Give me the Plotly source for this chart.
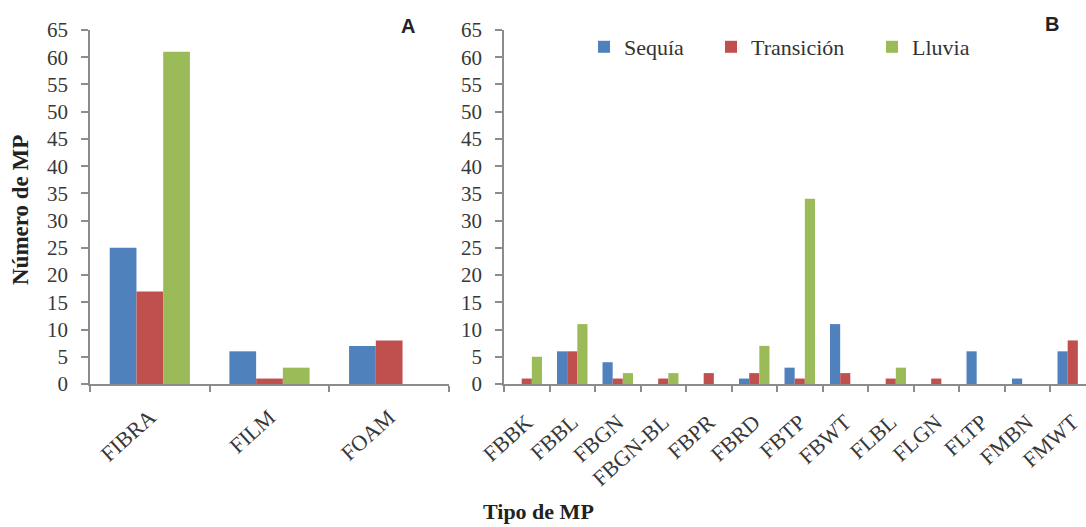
import plotly.graph_objects as go

W, H = 1086, 527

cats_a = ["FIBRA", "FILM", "FOAM"]
seq_a = [25, 6, 7]
tra_a = [17, 1, 8]
llu_a = [61, 3, 0]

cats_b = ["FBBK", "FBBL", "FBGN", "FBGN-BL", "FBPR", "FBRD", "FBTP",
          "FBWT", "FLBL", "FLGN", "FLTP", "FMBN", "FMWT"]
seq_b = [0, 6, 4, 0, 0, 1, 3, 11, 0, 0, 6, 1, 6]
tra_b = [1, 6, 1, 1, 2, 2, 1, 2, 1, 1, 0, 0, 8]
llu_b = [5, 11, 2, 2, 0, 7, 34, 0, 3, 0, 0, 0, 0]

series_names = ["Sequía", "Transición", "Lluvia"]
colors = ["#4F81BD", "#C0504D", "#9BBB59"]

SERIF = "Liberation Serif"

fig = go.Figure()
for name, vals, col in zip(series_names, [seq_a, tra_a, llu_a], colors):
    fig.add_trace(go.Bar(x=cats_a, y=vals, name=name, marker_color=col,
                         marker_line_width=0, showlegend=False,
                         xaxis="x", yaxis="y"))
legends = ["legend", "legend2", "legend3"]
for name, vals, col, lg in zip(series_names, [seq_b, tra_b, llu_b], colors, legends):
    fig.add_trace(go.Bar(x=cats_b, y=vals, name=name, marker_color=col,
                         marker_line_width=0, showlegend=True, legend=lg,
                         xaxis="x2", yaxis="y2"))

def px(x):
    return x / W

def py(y):
    return (H - y) / H

ybot, ytop = py(384), py(30)
axis_col = "#8c8c8c"
tickfont = dict(family=SERIF, size=21, color="#383838")
xtickfont = dict(family=SERIF, size=22, color="#383838")

common_y = dict(range=[0, 65], dtick=5, showline=True, linecolor=axis_col,
                linewidth=1.5, ticks="outside", ticklen=7, tickcolor=axis_col,
                tickwidth=1.5, showgrid=False, zeroline=False,
                tickfont=tickfont, ticklabelstandoff=9, automargin=False,
                domain=[ybot, ytop])
common_x = dict(type="category", showline=True, linecolor=axis_col,
                linewidth=1.5, ticks="outside", ticklen=6, tickcolor=axis_col,
                tickwidth=1.5, tickson="boundaries", showgrid=False,
                tickangle=-42, tickfont=xtickfont, automargin=False)

fig.update_layout(
    width=W, height=H,
    margin=dict(l=0, r=0, t=0, b=0, autoexpand=False),
    paper_bgcolor="white", plot_bgcolor="white",
    barmode="group", bargap=0.33, bargroupgap=0,
    xaxis=dict(domain=[px(90), px(449)], anchor="y", ticklabelstandoff=10,
               **common_x),
    yaxis=dict(anchor="x", **common_y),
    xaxis2=dict(domain=[px(504), 1.0], anchor="y2", ticklabelstandoff=15,
                range=[-0.5, -0.5 + (W - 504) / 45.5], **common_x),
    yaxis2=dict(anchor="x2", **common_y),
    font=dict(family=SERIF, color="#333333"),
    annotations=[
        dict(text="<b>A</b>", x=px(408), y=py(26), xref="paper", yref="paper",
             xanchor="center", yanchor="middle", showarrow=False,
             font=dict(family="Liberation Sans", size=20, color="#222")),
        dict(text="<b>B</b>", x=px(1052), y=py(24), xref="paper", yref="paper",
             xanchor="center", yanchor="middle", showarrow=False,
             font=dict(family="Liberation Sans", size=20, color="#222")),
        dict(text="<b>Número de MP</b>", x=px(21), y=py(210), xref="paper", yref="paper",
             xanchor="center", yanchor="middle", showarrow=False, textangle=-90,
             font=dict(family=SERIF, size=23, color="#222")),
        dict(text="<b>Tipo de MP</b>", x=px(538), y=py(511), xref="paper", yref="paper",
             xanchor="center", yanchor="middle", showarrow=False,
             font=dict(family=SERIF, size=22, color="#222")),
    ],
)

leg_common = dict(orientation="h", xanchor="left", yanchor="middle",
                  font=dict(family=SERIF, size=22, color="#333333"),
                  bgcolor="rgba(0,0,0,0)", borderwidth=0)
fig.update_layout(
    legend=dict(x=px(584), y=py(47), **leg_common),
    legend2=dict(x=px(711), y=py(47), **leg_common),
    legend3=dict(x=px(872), y=py(47), **leg_common),
)

fig.write_html("out.html")
